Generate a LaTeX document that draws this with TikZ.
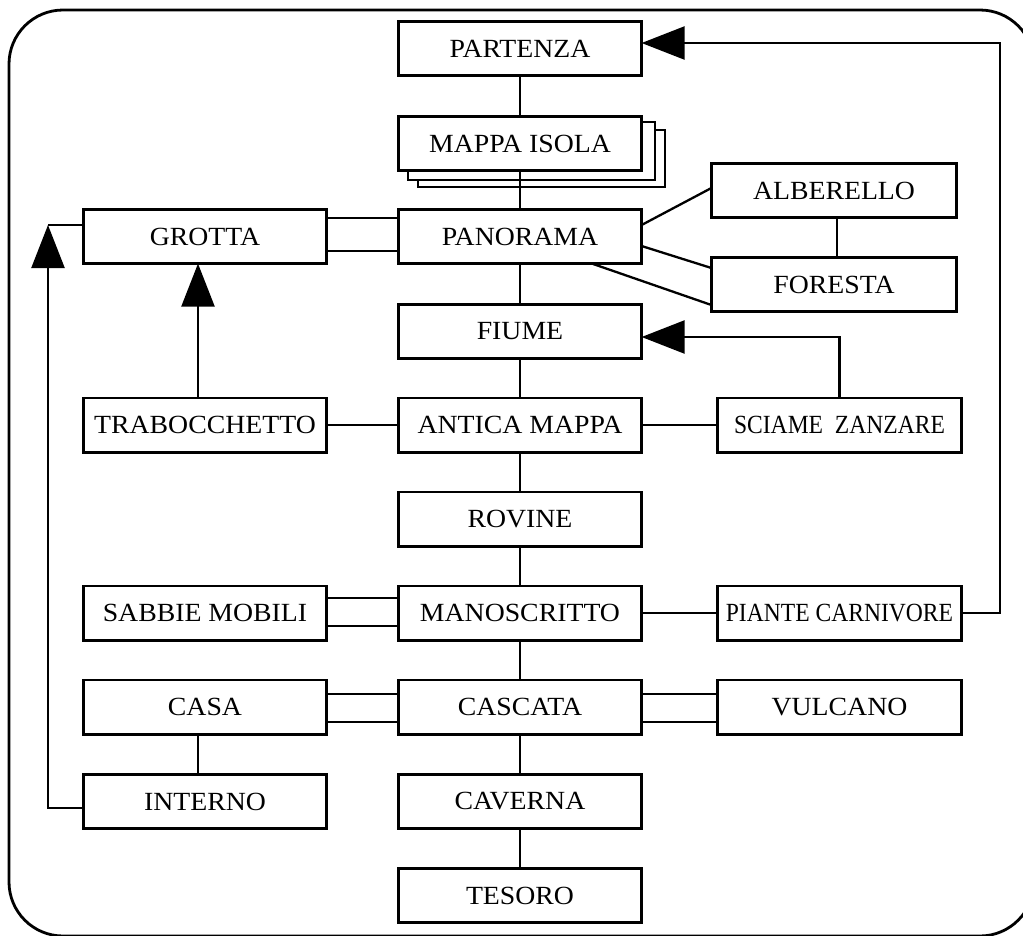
\documentclass[tikz,border=0pt]{standalone}
\usepackage{fontspec}
\setmainfont{Liberation Serif}[FakeStretch=1.06]
\newfontfamily\narrowfnt{Liberation Serif}[FakeStretch=0.9]
\usetikzlibrary{arrows.meta,calc}
\tikzset{
  box/.style={draw, line width=2.8pt, fill=white, minimum width=243.2pt, minimum height=54.2pt,
    inner sep=0pt, outer sep=0pt, font=\fontsize{26.2}{30}\selectfont},
  narrowbox/.style={box, font=\narrowfnt\fontsize{26.2}{30}\selectfont},
  conn/.style={line width=2.3pt},
  arr/.style={conn, -{Triangle[length=43pt, width=33pt]}},
  frame/.style={line width=2.8pt, rounded corners=54pt}
}
\begin{document}
\begin{tikzpicture}[x=1pt, y=-1pt]
\clip (0,0) rectangle (1023,935);
\draw[frame] (9,10) rectangle (1034,936);
% stacked pages behind MAPPA ISOLA
\draw[line width=2.8pt, fill=white] (418,130) rectangle (665,187);
\draw[line width=2.8pt, fill=white] (408,122) rectangle (655,180);
% nodes
\node[box] (partenza) at (520,48.5) {PARTENZA};
\node[box] (mappa) at (520,143.5) {MAPPA ISOLA};
\node[box] (panorama) at (520,236.5) {PANORAMA};
\node[box] (grotta) at (205,236.5) {GROTTA};
\node[box, minimum width=245.2pt] (alberello) at (834,190.5) {ALBERELLO};
\node[box, minimum width=245.2pt] (foresta) at (834,284.5) {FORESTA};
\node[box] (fiume) at (520,331.5) {FIUME};
\node[box] (trabocchetto) at (205,425) {TRABOCCHETTO};
\node[box] (antica) at (520,425) {ANTICA MAPPA};
\node[narrowbox, minimum width=244.2pt] (sciame) at (839.5,425) {SCIAME\ \ ZANZARE};
\node[box] (rovine) at (520,519) {ROVINE};
\node[box] (sabbie) at (205,613) {SABBIE MOBILI};
\node[box] (manoscritto) at (520,613) {MANOSCRITTO};
\node[narrowbox, minimum width=244.2pt] (piante) at (839.5,613) {PIANTE CARNIVORE};
\node[box] (casa) at (205,707) {CASA};
\node[box] (cascata) at (520,707) {CASCATA};
\node[box, minimum width=244.2pt] (vulcano) at (839.5,707) {VULCANO};
\node[box] (interno) at (205,801.5) {INTERNO};
\node[box] (caverna) at (520,801.5) {CAVERNA};
\node[box] (tesoro) at (520,895.5) {TESORO};
% vertical spine
\draw[conn] (partenza.south) -- (mappa.north);
\draw[conn] (mappa.south) -- (panorama.north);
\draw[conn] (panorama.south) -- (fiume.north);
\draw[conn] (fiume.south) -- (antica.north);
\draw[conn] (antica.south) -- (rovine.north);
\draw[conn] (rovine.south) -- (manoscritto.north);
\draw[conn] (manoscritto.south) -- (cascata.north);
\draw[conn] (cascata.south) -- (caverna.north);
\draw[conn] (caverna.south) -- (tesoro.north);
% double links
\draw[conn] ($(grotta.east)+(0,-18.5)$) -- ($(panorama.west)+(0,-18.5)$);
\draw[conn] ($(grotta.east)+(0,14.5)$) -- ($(panorama.west)+(0,14.5)$);
\draw[conn] ($(sabbie.east)+(0,-15)$) -- ($(manoscritto.west)+(0,-15)$);
\draw[conn] ($(sabbie.east)+(0,13)$) -- ($(manoscritto.west)+(0,13)$);
\draw[conn] ($(casa.east)+(0,-13)$) -- ($(cascata.west)+(0,-13)$);
\draw[conn] ($(casa.east)+(0,15)$) -- ($(cascata.west)+(0,15)$);
\draw[conn] ($(cascata.east)+(0,-13)$) -- ($(vulcano.west)+(0,-13)$);
\draw[conn] ($(cascata.east)+(0,15)$) -- ($(vulcano.west)+(0,15)$);
% panorama fan
\draw[conn] ($(panorama.east)+(0,-11.5)$) -- ($(alberello.west)+(0,-2.5)$);
\draw[conn] ($(panorama.east)+(0,9.5)$) -- ($(foresta.west)+(0,-16.5)$);
\draw[conn] ($(panorama.south)+(72,0)$) -- ($(foresta.west)+(0,20.5)$);
\draw[conn] ($(alberello.south)+(3,0)$) -- ($(foresta.north)+(3,0)$);
% single links
\draw[conn] (trabocchetto.east) -- (antica.west);
\draw[conn] (antica.east) -- (sciame.west);
\draw[conn] (manoscritto.east) -- (piante.west);
\draw[conn] ($(casa.south)+(-7,0)$) -- ($(interno.north)+(-7,0)$);
% arrows
\draw[arr] (sciame.north) |- ($(fiume.east)+(0,5.5)$);
\draw[arr] ($(trabocchetto.north)+(-7,0)$) -- ($(grotta.south)+(-7,0)$);
\coordinate (rc) at (1000,43);
\draw[arr] (piante.east) -| (rc) -- ($(partenza.east)+(0,-5.5)$);
\coordinate (lc) at (48,225);
\draw[arr] ($(interno.west)+(0,6.5)$) -| (lc);
\draw[conn] (lc) -- ($(grotta.west)+(0,-11.5)$);
\end{tikzpicture}
\end{document}
